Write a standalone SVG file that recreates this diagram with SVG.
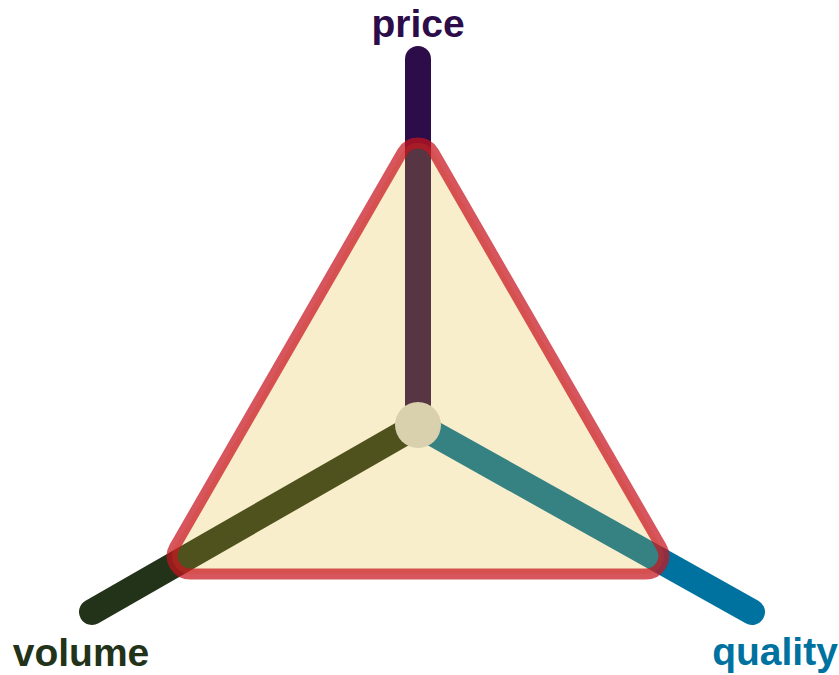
<svg xmlns="http://www.w3.org/2000/svg" width="839" height="675" viewBox="0 0 839 675">
<style>
.axis{stroke-width:26;stroke-linecap:round;fill:none}
.lbl{font-family:"Liberation Sans",Arial,sans-serif;font-weight:bold;font-size:39px;text-anchor:middle}
</style>
<rect width="839" height="675" fill="#ffffff"/>
<g id="connectors">
<line class="axis" x1="418" y1="425" x2="418" y2="59" stroke="#2d0c4a"/>
<line class="axis" x1="418" y1="425" x2="92" y2="612" stroke="#22331a"/>
<line class="axis" x1="418" y1="425" x2="752" y2="612" stroke="#0072a0"/>
</g>
<g id="triangle">
<path d="M402.4,152 A18,18 0 0 1 433.6,152 L661.4,547 A18,18 0 0 1 645.8,574 L190.2,574 A18,18 0 0 1 174.6,547 Z" fill="#e2b828" fill-opacity="0.24" stroke="#c8141e" stroke-opacity="0.72" stroke-width="11" stroke-linejoin="round"/>
</g>
<g id="center">
<circle cx="418" cy="425" r="23" fill="#d9d0ae"/>
</g>
<g id="price"><text class="lbl" x="418" y="37" fill="#2d0c4a">price</text></g>
<g id="volume"><text class="lbl" x="81" y="666" fill="#22331a">volume</text></g>
<g id="quality"><text class="lbl" x="775" y="665" fill="#0072a0">quality</text></g>
</svg>
